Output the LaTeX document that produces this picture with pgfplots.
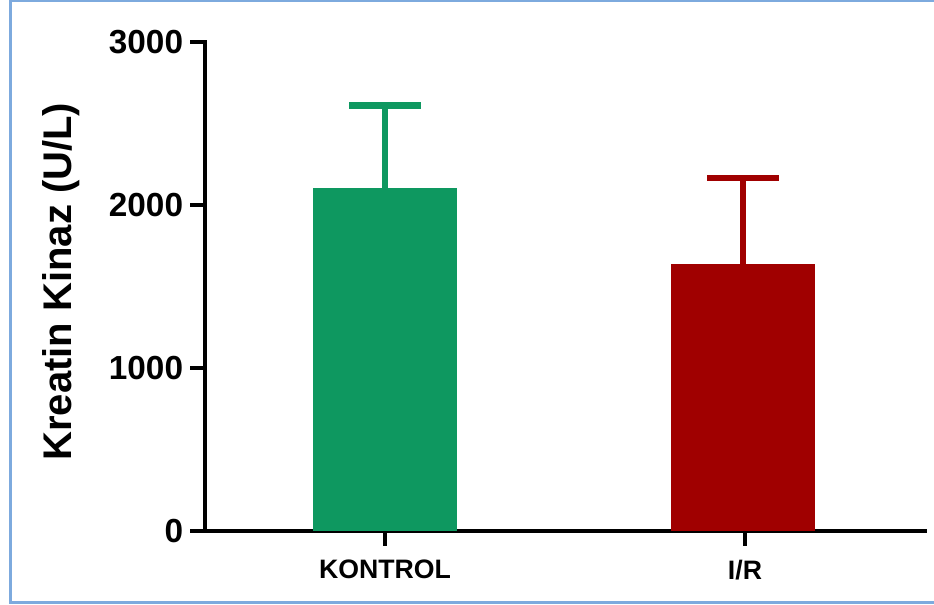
\documentclass[border=0pt]{standalone}
\usepackage{fontspec}
\setmainfont{Liberation Sans}
\usepackage{pgfplots}
\pgfplotsset{compat=1.18}
\definecolor{kgreen}{RGB}{14,152,96}
\definecolor{kred}{RGB}{160,0,0}
\definecolor{frameblue}{RGB}{125,170,222}
\begin{document}
\begin{tikzpicture}
\useasboundingbox (0,0) rectangle (700.5pt,453pt);
\draw[frameblue, line width=2.25pt] (700.5pt,452.25pt) -- (7.9pt,452.25pt) -- (7.9pt,1.5pt) -- (700.5pt,1.5pt);
\begin{axis}[
  at={(153.75pt,54.75pt)}, anchor=south west,
  scale only axis, width=540pt, height=366.75pt,
  xmin=-0.5, xmax=1.5, ymin=0, ymax=3000,
  axis x line=bottom, axis y line=left,
  axis line style={line width=3pt, -, line cap=rect},
  every tick/.style={line width=3pt, black},
  tick align=outside, major tick length=11pt,
  xtick={0,1}, xticklabels={KONTROL,I/R},
  ytick={0,1000,2000,3000},
  /pgf/number format/assume math mode=true,
  /pgf/number format/1000 sep={},
  yticklabel style={font=\fontsize{25}{25}\selectfont\bfseries, inner sep=0pt, xshift=-5.25pt},
  xticklabel style={font=\fontsize{20}{20}\selectfont\bfseries, inner sep=0pt, yshift=-10.5pt},
  ylabel={Kreatin Kinaz (U/L)},
  ylabel style={font=\fontsize{30}{30}\selectfont\bfseries, at={(axis description cs:-0.200,0.510)}, anchor=center},
  ybar, bar width=108pt,
  clip=false,
]
\addplot[fill=kgreen, draw=none, bar shift=0pt,
  error bars/.cd, y dir=plus, y explicit,
  error bar style={draw=kgreen, line width=5pt},
  error mark options={draw=kgreen, rotate=90, mark size=27pt, line width=5pt}]
  coordinates {(0,2104) +- (0,506)};
\addplot[fill=kred, draw=none, bar shift=-1.5pt,
  error bars/.cd, y dir=plus, y explicit,
  error bar style={draw=kred, line width=5pt},
  error mark options={draw=kred, rotate=90, mark size=27pt, line width=5pt}]
  coordinates {(1,1638) +- (0,528)};
\end{axis}
\end{tikzpicture}
\end{document}
